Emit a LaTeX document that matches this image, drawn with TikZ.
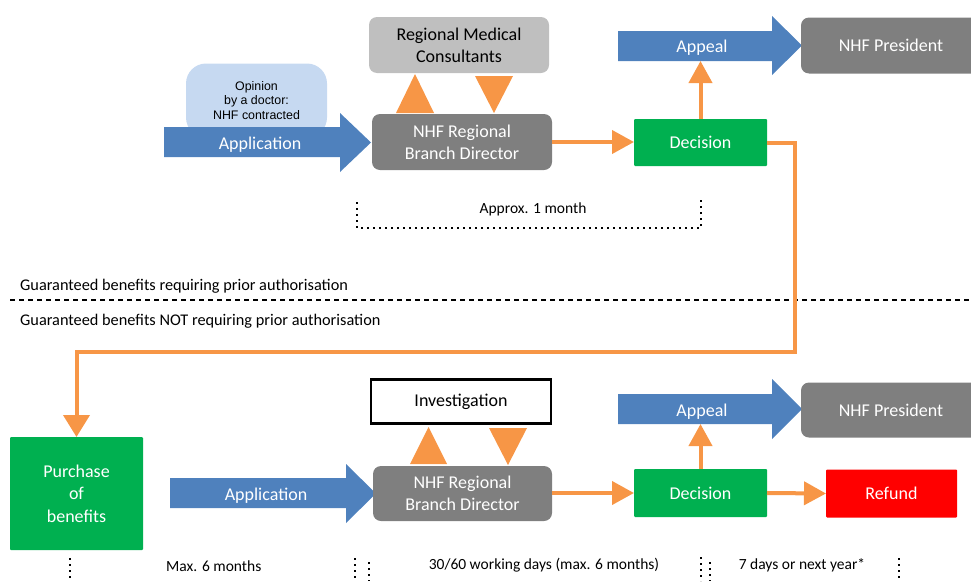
\documentclass[tikz,border=0pt]{standalone}
\usepackage{fontspec}
\setmainfont{Carlito}
\newfontfamily\arialf{Liberation Sans}
\usetikzlibrary{arrows.meta}
\definecolor{cblue}{HTML}{4F81BD}
\definecolor{clblue}{HTML}{C6D9F1}
\definecolor{clgray}{HTML}{BFBFBF}
\definecolor{cdgray}{HTML}{7F7F7F}
\definecolor{cgreen}{HTML}{00B050}
\definecolor{corange}{HTML}{F79646}
\definecolor{cred}{HTML}{FF0000}
\begin{document}
\begin{tikzpicture}[x=1pt,y=-1pt,
  box/.style={inner sep=0pt, outer sep=0pt, align=center, font=\fontsize{18}{22}\selectfont},
  graybox/.style={box, fill=cdgray, text=white, rounded corners=8pt},
  greenbox/.style={box, fill=cgreen, text=white, rounded corners=1pt},
  arrowtext/.style={box, text=white},
  flow/.style={draw=corange, line width=4pt, -{Triangle[length=22pt,width=23pt]}},
  tri/.style={fill=corange},
  blockarrow/.style={fill=cblue},
  small/.style={inner sep=0pt, font=\fontsize{15.5}{18}\selectfont},
  section/.style={inner sep=0pt, anchor=west, font=\fontsize{16.3}{19}\selectfont},
  dots/.style={line width=1.6pt, dash pattern=on 1.6pt off 4.4pt}
]
\useasboundingbox (0,0) rectangle (971,581);
\clip (0,0) rectangle (971,581);

% ---------------- top section ----------------
\node[box, fill=clblue, rounded corners=20pt, minimum width=141pt, minimum height=74pt,
      font=\arialf\fontsize{12.4}{14.5}\selectfont] (op) at (256.5,100.5) {Opinion\\by a doctor:\\NHF contracted};

\fill[blockarrow] (164,127) -- (340,127) -- (340,113) -- (371,142.5) -- (340,172) -- (340,157) -- (164,157) -- cycle;
\node[arrowtext] (app1) at (260,145) {Application};

\node[box, fill=clgray, rounded corners=8pt, minimum width=180pt, minimum height=56pt] (rmc) at (459,45) {Regional Medical\\Consultants};
\node[graybox, minimum width=180pt, minimum height=56pt] (dir1) at (462,142) {NHF Regional\\Branch Director};
\fill[tri] (396,113) -- (434,113) -- (415,74) -- cycle;
\fill[tri] (475,76) -- (513,76) -- (494,113) -- cycle;

\node[greenbox, minimum width=133pt, minimum height=47pt] (dec1) at (700.5,142.5) {Decision};
\draw[flow] (dir1.east) -- (dir1.east -| dec1.west);

\fill[blockarrow] (618,31) -- (772,31) -- (772,16) -- (802,45.5) -- (772,75) -- (772,61) -- (618,61) -- cycle;
\node[arrowtext] (ap1) at (702,48) {Appeal};
\coordinate (ap1b) at (700.5,61);
\draw[flow] (dec1.north) -- (ap1b);

\node[graybox, minimum width=180pt, minimum height=56pt] (pres1) at (891,45.5) {NHF President};

\draw[dots] (357,202) -- (357,228) -- (701,228) -- (701,198);
\node[small] (t1) at (533,209.5) {Approx. 1 month};

% ---------------- separator ----------------
\node[section] (lab1) at (20,286) {Guaranteed benefits requiring prior authorisation};
\draw[line width=1.2pt, dash pattern=on 5pt off 4pt] (10,300) -- (971,300);
\node[section] (lab2) at (20,321) {Guaranteed benefits NOT requiring prior authorisation};

% ---------------- bottom section ----------------
\node[greenbox, minimum width=133pt, minimum height=113pt, font=\fontsize{18}{22.5}\selectfont] (purch) at (76.5,493.5) {Purchase\\of\\benefits};

\coordinate (turn1) at (795,352);
\draw[flow, -{Triangle[length=22pt,width=26pt]}] (dec1.east) -| (turn1) -| (purch.north);

\fill[blockarrow] (170,478) -- (346,478) -- (346,464) -- (376,493.5) -- (346,523) -- (346,508) -- (170,508) -- cycle;
\node[arrowtext] (app2) at (266,495.5) {Application};

\node[box, draw=black, line width=2.5pt, fill=white, minimum width=180pt, minimum height=44pt] (inv) at (461,401.5) {Investigation};
\node[graybox, minimum width=179pt, minimum height=55pt] (dir2) at (462.5,493.5) {NHF Regional\\Branch Director};
\fill[tri] (410,464) -- (447,464) -- (428.5,427) -- cycle;
\fill[tri] (489,428) -- (527,428) -- (508,465) -- cycle;

\node[greenbox, minimum width=133pt, minimum height=48pt] (dec2) at (700.5,493) {Decision};
\draw[flow] (dir2.east |- dec2.west) -- (dec2.west);

\fill[blockarrow] (618,394) -- (772,394) -- (772,379) -- (802,409) -- (772,439) -- (772,424) -- (618,424) -- cycle;
\node[arrowtext] (ap2) at (702,411.5) {Appeal};
\coordinate (ap2b) at (700.5,424);
\draw[flow] (dec2.north) -- (ap2b);

\node[graybox, minimum width=180pt, minimum height=55pt] (pres2) at (891,410) {NHF President};

\node[box, fill=cred, text=white, rounded corners=1pt, minimum width=131pt, minimum height=48pt] (ref) at (891.5,493.5) {Refund};
\draw[flow] (dec2.east) -- (ref.west);

% timeline
\draw[dots] (70,558) -- (70,581);
\node[small, anchor=west] (t2) at (166,566) {Max. 6 months};
\draw[dots] (355,558) -- (355,581);
\draw[dots] (369,562) -- (369,581);
\node[small] (t3) at (544,565) {30/60 working days (max. 6 months)};
\draw[dots] (701,557) -- (701,581);
\draw[dots] (710,562) -- (710,581);
\node[small] (t4) at (802,565) {7 days or next year*};
\draw[dots] (899,558) -- (899,581);
\end{tikzpicture}
\end{document}
